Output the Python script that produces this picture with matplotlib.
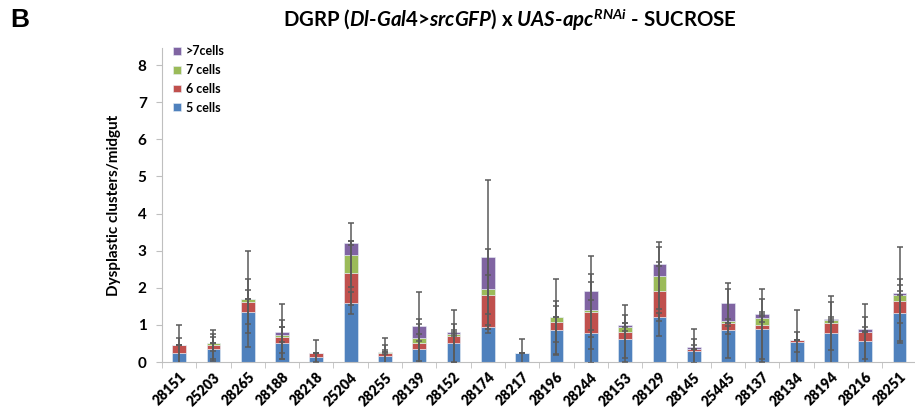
import numpy as np
import matplotlib
matplotlib.use("Agg")
import matplotlib.pyplot as plt

plt.rcParams['font.family'] = ['Lato', 'DejaVu Sans']
plt.rcParams['mathtext.fontset'] = 'custom'
plt.rcParams['mathtext.it'] = 'Lato:bold:italic'
plt.rcParams['mathtext.rm'] = 'Lato:bold'
plt.rcParams['mathtext.bf'] = 'Lato:bold'

lines = ["28151", "25203", "28265", "28188", "28218", "25204", "28255", "28139",
         "28152", "28174", "28217", "28196", "28244", "28153", "28129", "28145",
         "25445", "28137", "28134", "28194", "28216", "28251"]

# segment heights per class
c5 = [0.23, 0.35, 1.36, 0.50, 0.13, 1.59, 0.17, 0.34, 0.50, 0.95, 0.23,
      0.86, 0.77, 0.63, 1.21, 0.29, 0.86, 0.89, 0.54, 0.77, 0.56, 1.32]
c6 = [0.23, 0.11, 0.27, 0.18, 0.10, 0.81, 0.06, 0.16, 0.20, 0.86, 0.00,
      0.23, 0.59, 0.19, 0.69, 0.06, 0.18, 0.10, 0.05, 0.27, 0.26, 0.32]
c7 = [0.00, 0.06, 0.07, 0.05, 0.00, 0.49, 0.03, 0.16, 0.06, 0.16, 0.00,
      0.12, 0.05, 0.12, 0.42, 0.00, 0.06, 0.20, 0.00, 0.08, 0.00, 0.16]
c8 = [0.00, 0.00, 0.01, 0.09, 0.00, 0.32, 0.00, 0.30, 0.05, 0.87, 0.00,
      0.00, 0.50, 0.06, 0.32, 0.05, 0.49, 0.10, 0.00, 0.04, 0.07, 0.06]

# error per class, drawn at each stacked top
e5 = [0.41, 0.32, 0.57, 0.43, 0.12, 0.30, 0.30, 0.69, 0.53, 0.05, 0.40,
      0.65, 0.10, 0.64, 0.10, 0.32, 0.10, 0.80, 0.26, 0.86, 0.66, 0.76]
e6 = [0.54, 0.39, 0.60, 0.45, 0.35, 0.87, 0.41, 0.67, 0.71, 0.53, 0.00,
      0.56, 1.02, 0.71, 1.19, 0.54, 0.92, 0.99, 0.80, 0.73, 0.73, 0.59]
e7 = [0.00, 0.23, 1.30, 0.20, 0.00, 0.86, 0.05, 0.10, 0.06, 1.08, 0.00,
      1.02, 1.44, 0.10, 0.90, 0.00, 0.05, 0.10, 0.00, 0.05, 0.00, 1.29]
e8 = [0.00, 0.00, 0.00, 0.73, 0.00, 0.06, 0.00, 0.92, 0.05, 2.06, 0.00,
      0.00, 0.25, 0.05, 0.05, 0.05, 0.54, 0.05, 0.00, 0.05, 0.05, 0.05]

labels = ["5 cells", "6 cells", "7 cells", ">7cells"]
colors = ["#4F81BD", "#C0504D", "#9BBB59", "#8064A2"]

fig = plt.figure(figsize=(9.15, 4.16), dpi=100)
ax = fig.add_axes([0.177, 0.1298, 0.823, 0.7548])

x = np.arange(len(lines))
bottom = np.zeros(len(lines))
handles = []
for vals, errs, lab, col in zip([c5, c6, c7, c8], [e5, e6, e7, e8], labels, colors):
    vals = np.array(vals)
    h = ax.bar(x, vals, 0.4, bottom=bottom, color=col, label=lab, zorder=2,
               edgecolor="#e8eef6", linewidth=0.4)
    handles.append(h)
    bottom = bottom + vals
    ax.errorbar(x, bottom, yerr=errs, fmt="none", ecolor="#5a5a5a",
                elinewidth=1.1, capsize=2, capthick=1.1, zorder=3)

ax.set_xlim(-0.5, 21.45)
ax.set_ylim(0, 8.46)
ax.set_yticks(range(0, 9))
ax.set_yticklabels([str(i) for i in range(0, 9)], fontsize=11, fontweight="bold")
ax.set_xticks(x)
ax.set_xticklabels(lines, rotation=45, ha="right", rotation_mode="anchor",
                   fontsize=10, fontweight="heavy")
ax.set_xticks(np.arange(-0.5, 21.5, 1), minor=True)
ax.tick_params(axis="x", which="major", length=0, pad=6)
ax.tick_params(axis="x", which="minor", length=4, color="#bfbfbf", direction="out")
ax.tick_params(axis="y", length=4, color="#bfbfbf", pad=7)
for s in ["top", "right"]:
    ax.spines[s].set_visible(False)
for s in ["left", "bottom"]:
    ax.spines[s].set_color("#bfbfbf")
ax.set_ylabel("Dysplastic clusters/midgut", fontsize=11, fontweight="bold", labelpad=12)

ax.legend(handles[::-1], labels[::-1], loc="upper left", bbox_to_anchor=(0.0, 1.045),
          frameon=False, handlelength=0.6, handleheight=0.6, handletextpad=0.4,
          labelspacing=0.55, prop={"weight": "bold", "size": 9})

fig.text(0.557, 0.952, r"DGRP ($\mathit{Dl}$-$\mathit{Gal4}$>$\mathit{srcGFP}$) x "
         r"$\mathit{UAS}$-$\mathit{apc}^{\mathit{RNAi}}$ - SUCROSE",
         ha="center", va="center", fontsize=14.7, fontweight="bold")
fig.text(0.011, 0.952, "B", ha="left", va="center", fontsize=19, fontweight="bold",
         family="Liberation Sans")

fig.savefig("out.png", dpi=100)
